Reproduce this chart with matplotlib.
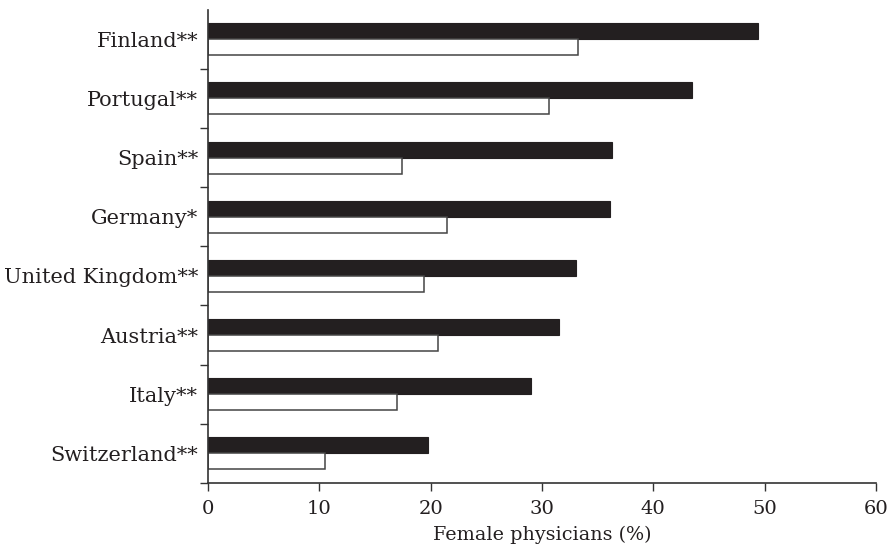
import numpy as np
import matplotlib
matplotlib.use("Agg")
import matplotlib.pyplot as plt

# data, top to bottom as in the figure
countries = ["Finland**", "Portugal**", "Spain**", "Germany*",
             "United Kingdom**", "Austria**", "Italy**", "Switzerland**"]
black_vals = [49.4, 43.5, 36.3, 36.1, 33.1, 31.5, 29.0, 19.8]
white_vals = [33.2, 30.6, 17.4, 21.5, 19.4, 20.7, 17.0, 10.5]
xticks = [0, 10, 20, 30, 40, 50, 60]

plt.rcParams['font.family'] = ['DejaVu Serif']

fig = plt.figure(figsize=(8.92, 5.53), dpi=100)
ax = fig.add_axes([0.2332, 0.1266, 0.7488, 0.856])

n = len(countries)
y = np.arange(n)[::-1]
h = 0.27
ink = '#231f20'

ax.barh(y + h/2, black_vals, height=h, color=ink, edgecolor=ink, linewidth=0.8)
ax.barh(y - h/2, white_vals, height=h, color='white', edgecolor='#444444', linewidth=1.1)

ax.set_xlim(0, 60)
ax.set_ylim(-0.5, n - 0.5)
ax.set_xticks(xticks)
ax.set_xticklabels([str(v) for v in xticks])

# group separators as major ticks, country names on minor ticks
ax.set_yticks(np.arange(n) - 0.5)
ax.set_yticklabels([])
ax.set_yticks(y, minor=True)
ax.set_yticklabels(countries, minor=True)
ax.tick_params(axis='y', which='minor', length=0, pad=7, labelsize=15)
ax.tick_params(axis='y', which='major', length=6, width=1, color='#333333')
ax.tick_params(axis='x', length=6, width=1, color='#333333', pad=6, labelsize=14)
ax.tick_params(which='both', labelcolor='#231f20')

for s in ['top', 'right']:
    ax.spines[s].set_visible(False)
for s in ['left', 'bottom']:
    ax.spines[s].set_linewidth(1.2)
    ax.spines[s].set_color('#333333')

ax.set_xlabel('Female physicians (%)', fontsize=13.8, color='#231f20', labelpad=6)

plt.savefig('out.png', dpi=100)
plt.close()
